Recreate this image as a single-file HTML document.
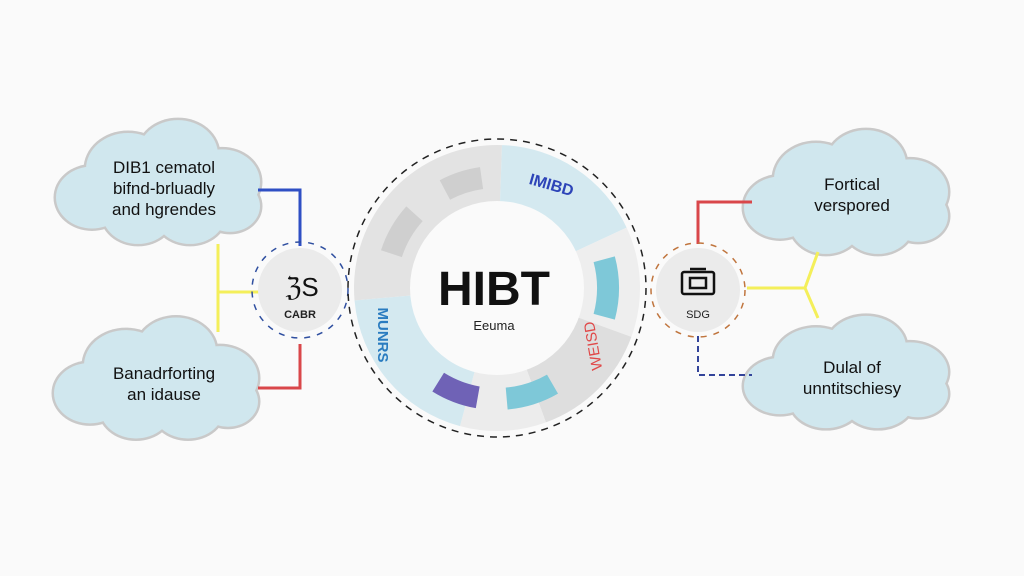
<!DOCTYPE html>
<html><head><meta charset="utf-8"><style>
html,body{margin:0;padding:0;background:#fafafa;}
svg{display:block;}
text{font-family:"Liberation Sans",sans-serif;}
</style></head><body>
<svg id="s" width="1024" height="576" viewBox="0 0 1024 576" xmlns="http://www.w3.org/2000/svg">
<rect width="1024" height="576" fill="#fafafa"/>
<g id="clouds"></g>
<!-- connectors left -->
<polyline points="258,190 300,190 300,246" fill="none" stroke="#2f4fc4" stroke-width="3"/>
<polyline points="258,388 300,388 300,344" fill="none" stroke="#d9474a" stroke-width="3"/>
<line x1="218" y1="244" x2="218" y2="332" stroke="#f4ef5a" stroke-width="3"/>
<line x1="218" y1="292" x2="262" y2="292" stroke="#f4ef5a" stroke-width="3"/>
<!-- connectors right -->
<polyline points="752,202 698,202 698,244" fill="none" stroke="#d9474a" stroke-width="3"/>
<polyline points="747,288 805,288" fill="none" stroke="#f4ef5a" stroke-width="3"/>
<polyline points="818,252 805,288 818,318" fill="none" stroke="#f4ef5a" stroke-width="3"/>
<polyline points="698,336 698,375 752,375" fill="none" stroke="#33449a" stroke-width="2" stroke-dasharray="6,4"/>
<!-- small circles -->
<circle cx="300" cy="290" r="42" fill="#ebebeb"/>
<circle cx="300" cy="290" r="48" fill="none" stroke="#2f4fa0" stroke-width="1.5" stroke-dasharray="6,7"/>
<text x="302" y="296" font-size="26" text-anchor="middle" fill="#111" font-family="DejaVu Serif,serif">ℨS</text>
<text x="300" y="318" font-size="11" text-anchor="middle" fill="#222" font-weight="bold">CABR</text>
<circle cx="698" cy="290" r="42" fill="#ebebeb"/>
<circle cx="698" cy="290" r="47" fill="none" stroke="#c0753e" stroke-width="1.5" stroke-dasharray="6,7"/>
<g fill="none" stroke="#111" stroke-width="2.5">
<rect x="682" y="272" width="32" height="22" rx="2"/>
<rect x="690" y="278" width="16" height="10"/>
<line x1="690" y1="269" x2="706" y2="269"/>
</g>
<text x="698" y="318" font-size="11" text-anchor="middle" fill="#222">SDG</text>
<!-- ring -->
<circle cx="497" cy="288" r="149" fill="none" stroke="#222" stroke-width="1.5" stroke-dasharray="7,6"/>
<g id="ring"></g>
<circle cx="497" cy="288" r="87" fill="#fafafa"/>
<text x="494" y="305" font-size="48" font-weight="bold" text-anchor="middle" fill="#111">HIBT</text>
<text x="494" y="330" font-size="13" text-anchor="middle" fill="#222" font-family="Liberation Serif,serif">Eeuma</text>
<text transform="translate(550,190) rotate(16)" font-size="16" font-weight="bold" fill="#2d44b8" text-anchor="middle">IMIBD</text>
<text transform="translate(378,335) rotate(90)" font-size="15" font-weight="bold" fill="#2a7cc0" text-anchor="middle">MUNRS</text>
<text transform="translate(598,345) rotate(-100)" font-size="15" fill="#e04848" text-anchor="middle">WEISD</text>
<!-- cloud texts -->
<g font-size="17" fill="#111" text-anchor="middle">
<text x="164" y="173">DIB1 cematol</text>
<text x="164" y="194">bifnd-brluadly</text>
<text x="164" y="215">and hgrendes</text>
<text x="164" y="379">Banadrforting</text>
<text x="164" y="400">an idause</text>
<text x="852" y="190">Fortical</text>
<text x="852" y="211">verspored</text>
<text x="852" y="373">Dulal of</text>
<text x="852" y="394">unntitschiesy</text>
</g>
</svg>
<script>
const NS="http://www.w3.org/2000/svg";
function el(p,t,a){const e=document.createElementNS(NS,t);for(const k in a)e.setAttribute(k,a[k]);p.insertBefore(e,p.firstChild&&t==='x'?p.firstChild:null);return e;}
const cg=document.getElementById('clouds');
function cloud(cx,cy,sx,sy){
 const cs=[[-68,18,36],[-32,-15,42],[18,-32,40],[62,0,38],[70,28,30],[30,36,36],[-22,36,36],[0,8,50]];
 [['#c9c9c9',2.5],['#d0e7ee',0]].forEach(([c,w])=>{
  cs.forEach(([x,y,r])=>{const e=document.createElementNS(NS,'ellipse');
   e.setAttribute('cx',cx+x*sx);e.setAttribute('cy',cy+y*sy);e.setAttribute('rx',r*sx+w);e.setAttribute('ry',r*sy+w);e.setAttribute('fill',c);cg.appendChild(e);});
 });
}
cloud(160,182,1.0,0.86);
cloud(158,378,1.0,0.84);
cloud(848,192,1.0,0.86);
cloud(848,372,1.0,0.78);
const rg=document.getElementById('ring');
const C=[497,288];
function arc(a0,a1,r0,r1,fill){
 const p=(a,r)=>[C[0]+r*Math.cos(a*Math.PI/180),C[1]+r*Math.sin(a*Math.PI/180)];
 const L=(a1-a0)>180?1:0;
 const A=p(a0,r1),B=p(a1,r1),D=p(a1,r0),E=p(a0,r0);
 const d=`M${A}A${r1},${r1} 0 ${L} 1 ${B}L${D}A${r0},${r0} 0 ${L} 0 ${E}Z`;
 const e=document.createElementNS(NS,'path');e.setAttribute('d',d);e.setAttribute('fill',fill);rg.appendChild(e);
}
arc(175,272,86,143,'#e3e3e3');
arc(272,335,86,143,'#d4e9f0');
arc(335,20,86,143,'#eeeeee');
arc(20,70,86,143,'#dedede');
arc(70,105,86,143,'#ececec');
arc(105,175,86,143,'#d4e9f0');
arc(242,262,100,122,'#cfcfcf');
arc(198,222,100,122,'#cfcfcf');
arc(345,15,100,122,'#7ec8d8');
arc(100,122,100,122,'#6f62b6');
arc(60,85,100,122,'#7ec8d8');
</script>
</body></html>
